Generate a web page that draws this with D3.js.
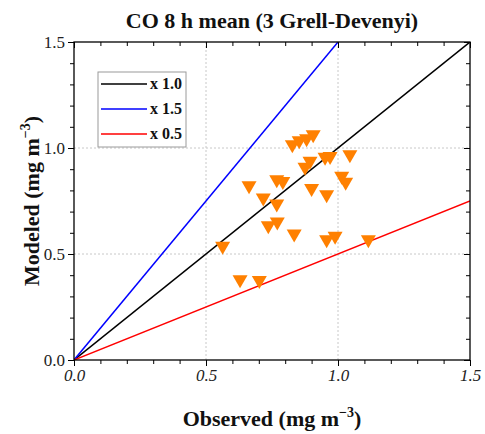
<!DOCTYPE html>
<html><head><meta charset="utf-8">
<script src="https://cdn.jsdelivr.net/npm/d3@7"></script>
<style>body{margin:0;background:#fff;} svg{display:block;}</style>
</head><body>
<script>
const obsValues = [0.663,0.717,0.768,0.791,0.768,0.736,0.770,0.834,0.563,0.629,0.702,0.827,0.853,0.881,0.906,0.875,0.894,0.900,0.957,0.951,0.970,1.045,1.014,1.029,0.957,0.989,1.115];
const modValues = [0.813,0.755,0.841,0.833,0.726,0.624,0.642,0.585,0.527,0.369,0.365,1.006,1.025,1.034,1.053,0.900,0.928,0.799,0.770,0.947,0.951,0.959,0.857,0.829,0.558,0.574,0.558];
const refSlopes = [1.0, 1.5, 0.5];
const refLabels = ["x 1.0", "x 1.5", "x 0.5"];
const refColors = ["#000000", "#0000ff", "#ff0000"];
const majorTicks = [0, 0.5, 1.0, 1.5];
const tickLabels = ["0.0", "0.5", "1.0", "1.5"];
const gridValues = [0.5, 1.0];
const titleText = "CO 8 h mean (3 Grell-Devenyi)";

const W = 485, H = 434;
const m = {l:74, r:15, t:42, b:74};
const x = d3.scaleLinear().domain([0,1.5]).range([m.l, W - m.r]);
const y = d3.scaleLinear().domain([0,1.5]).range([H - m.b, m.t]);
const svg = d3.select("body").append("svg").attr("width", W).attr("height", H);
const serif = "'Liberation Serif', 'DejaVu Serif', serif";

// grid
const g = svg.append("g");
g.selectAll(".gx").data(gridValues).enter().append("line")
  .attr("x1", d=>x(d)).attr("x2", d=>x(d)).attr("y1", y(0)).attr("y2", y(1.5))
  .attr("stroke", "#c8c8c8").attr("stroke-dasharray", "2,2").attr("stroke-width", 1);
g.selectAll(".gy").data(gridValues).enter().append("line")
  .attr("y1", d=>y(d)).attr("y2", d=>y(d)).attr("x1", x(0)).attr("x2", x(1.5))
  .attr("stroke", "#c8c8c8").attr("stroke-dasharray", "2,2").attr("stroke-width", 1);

// reference lines, clipped to plot
svg.append("clipPath").attr("id","clip").append("rect")
  .attr("x", x(0)).attr("y", y(1.5)).attr("width", x(1.5)-x(0)).attr("height", y(0)-y(1.5));
const lg = svg.append("g").attr("clip-path","url(#clip)");
refSlopes.forEach((s,i)=>{
  const xe = Math.min(1.5, 1.5/s);
  lg.append("line").attr("x1", x(0)).attr("y1", y(0)).attr("x2", x(xe)).attr("y2", y(xe*s))
    .attr("stroke", refColors[i]).attr("stroke-width", 1.5);
});

// points: downward triangles
const tw = 15, th = 13;
svg.append("g").selectAll("path").data(obsValues.map((v,i)=>[v, modValues[i]])).enter().append("path")
  .attr("d", d=>{const cx=x(d[0]), cy=y(d[1]); return `M${cx-tw/2},${cy-th/2}L${cx+tw/2},${cy-th/2}L${cx},${cy+th/2}Z`;})
  .attr("fill", "#ff8000");

// axes
const tickVals = d3.range(0, 1.501, 0.1);
function styleAxis(sel){
  sel.select(".domain").remove();
  sel.selectAll(".tick line").attr("stroke","#000");
}
const isMajor = d => Math.abs(d*2 - Math.round(d*2)) < 1e-6;
const fmt = d => tickLabels[majorTicks.findIndex(t=>Math.abs(t-d)<1e-6)];

// bottom
const xb = svg.append("g").attr("transform", `translate(0,${y(0)})`)
  .call(d3.axisBottom(x).tickValues(tickVals).tickSize(5).tickFormat(d=>isMajor(d)?fmt(d):""));
styleAxis(xb);
xb.selectAll(".tick line").attr("y2", d=>isMajor(d)?6:4);
xb.selectAll(".tick text").attr("font-family", serif).attr("font-size", 17).attr("font-style","italic").attr("fill","#222").attr("y", 9);
// left
const yl = svg.append("g").attr("transform", `translate(${x(0)},0)`)
  .call(d3.axisLeft(y).tickValues(tickVals).tickSize(5).tickFormat(d=>isMajor(d)?fmt(d):""));
styleAxis(yl);
yl.selectAll(".tick line").attr("x2", d=>isMajor(d)?-6:-4);
yl.selectAll(".tick text").attr("font-family", serif).attr("font-size", 17).attr("fill","#222").attr("x", -9);
// top (inward)
const xt = svg.append("g").attr("transform", `translate(0,${y(1.5)})`)
  .call(d3.axisBottom(x).tickValues(tickVals).tickSize(5).tickFormat(""));
styleAxis(xt);
xt.selectAll(".tick line").attr("y2", d=>isMajor(d)?6:4);
// right (inward)
const yr = svg.append("g").attr("transform", `translate(${x(1.5)},0)`)
  .call(d3.axisLeft(y).tickValues(tickVals).tickSize(5).tickFormat(""));
styleAxis(yr);
yr.selectAll(".tick line").attr("x2", d=>isMajor(d)?-6:-4);

// frame
svg.append("rect").attr("x", x(0)).attr("y", y(1.5)).attr("width", x(1.5)-x(0)).attr("height", y(0)-y(1.5))
  .attr("fill","none").attr("stroke","#000").attr("stroke-width",1.3);

// legend
const leg = svg.append("g");
leg.append("rect").attr("x", 98).attr("y", 72).attr("width", 88).attr("height", 75)
  .attr("fill","#fff").attr("stroke","#9a9a9a").attr("stroke-width",1);
refLabels.forEach((t,i)=>{
  const yy = 84 + i*25;
  leg.append("line").attr("x1", 101).attr("x2", 147).attr("y1", yy).attr("y2", yy)
    .attr("stroke", refColors[i]).attr("stroke-width", 1.5);
  leg.append("text").attr("x", 150).attr("y", yy+5).text(t)
    .attr("font-family", serif).attr("font-weight","bold").attr("font-size", 16).attr("fill","#111");
});

// title
svg.append("text").attr("x", (x(0)+x(1.5))/2).attr("y", 28).attr("text-anchor","middle")
  .attr("font-family", serif).attr("font-weight","bold").attr("font-size", 22).attr("fill","#111").text(titleText);

// axis titles
const xtl = svg.append("text").attr("x", (x(0)+x(1.5))/2).attr("y", 426).attr("text-anchor","middle")
  .attr("font-family", serif).attr("font-weight","bold").attr("font-size", 22).attr("fill","#111");
xtl.append("tspan").text("Observed (mg m");
xtl.append("tspan").text("−3").attr("font-size", 14).attr("dy", -9);
xtl.append("tspan").text(")").attr("dy", 9);

const ytl = svg.append("text").attr("transform", `translate(39,${(y(0)+y(1.5))/2}) rotate(-90)`).attr("text-anchor","middle")
  .attr("font-family", serif).attr("font-weight","bold").attr("font-size", 22).attr("fill","#111");
ytl.append("tspan").text("Modeled (mg m");
ytl.append("tspan").text("−3").attr("font-size", 14).attr("dy", -9);
ytl.append("tspan").text(")").attr("dy", 9);
</script>
</body></html>
